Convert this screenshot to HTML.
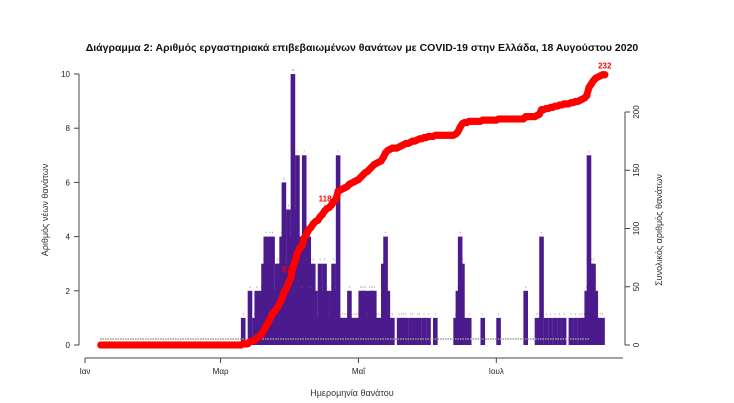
<!DOCTYPE html>
<html><head><meta charset="utf-8"><style>
body{margin:0;background:#fff;}
svg{display:block;font-family:"Liberation Sans","DejaVu Sans",sans-serif;}
</style></head><body>
<svg id="chart" width="734" height="403" viewBox="0 0 734 403">
<text x="362" y="51" text-anchor="middle" font-size="10.5" font-weight="bold" fill="#111">Διάγραμμα 2: Αριθμός εργαστηριακά επιβεβαιωμένων θανάτων με COVID-19 στην Ελλάδα, 18 Αυγούστου 2020</text>
<g id="bars"></g>
<line x1="100" y1="339" x2="590" y2="339" stroke="#999" stroke-width="1.5" stroke-dasharray="1.5,1"/>
<g id="cum"></g>
<g id="axes"></g>
<text x="352" y="396" text-anchor="middle" font-size="9" fill="#333">Ημερομηνία θανάτου</text>
<text transform="translate(48,210) rotate(-90)" text-anchor="middle" font-size="9" fill="#333">Αριθμός νέων θανάτων</text>
<text transform="translate(662,230) rotate(-90)" text-anchor="middle" font-size="9" fill="#333">Συνολικός αριθμός θανάτων</text>
</svg>
<script>
const startDay = 70; // Mar 11 (day index from Jan 1)
const dailyDeaths = [
1,0,0,2,0,1,2,1,2,3,
4,3,4,4,2,3,3,4,6,3,
5,4,10,5,7,4,2,7,3,4,
2,3,2,1,3,2,3,2,1,2,
3,2,7,1,1,1,1,2,1,1,
1,1,2,2,2,1,2,2,2,1,
1,1,3,4,2,1,1,0,0,1,
1,1,1,0,1,1,0,1,1,0,
1,0,1,0,0,1,0,0,0,0,
0,0,0,0,1,2,4,3,1,0,
1,0,0,0,0,0,1,0,0,0,
0,0,0,1,0,0,0,0,0,0,
0,0,0,0,0,2,0,0,0,0,
1,1,4,0,1,0,1,0,1,0,
1,0,1,0,0,1,0,1,0,1,
1,1,2,7,3,3,2,1,1,1,0];
const leftTicks = [0,2,4,6,8,10];
const rightTicks = [0,50,100,150,200];
const monthTicks = ["Ιαν","Μαρ","Μαΐ","Ιουλ"];
const monthDays = [0,60,121,182];
const cumStartDay = 7;
const labelDays = [91,108];

const NS="http://www.w3.org/2000/svg";
const X=d=>85+d*2.26;
const YL=v=>345-v*27.1;
const YR=v=>345-v*1.165;
function mk(tag,attrs,parent){const e=document.createElementNS(NS,tag);for(const k in attrs)e.setAttribute(k,attrs[k]);parent.appendChild(e);return e;}
const bars=document.getElementById('bars'),cum=document.getElementById('cum'),axes=document.getElementById('axes');
dailyDeaths.forEach((v,i)=>{if(v<=0)return;const d=startDay+i;
 const r=mk('rect',{x:X(d)-2.3,y:YL(v),width:4.6,height:YL(0)-YL(v),fill:'#4b1a8c'},bars);
 
 
 const t=mk('text',{x:X(d),y:YL(v)-3,'font-size':3,fill:'#888','text-anchor':'middle'},bars);t.textContent=v;
 
 
});
let c=0;const pts=[];
for(let d=cumStartDay;d<=startDay+dailyDeaths.length-1;d++){const i=d-startDay;if(i>=0)c+=dailyDeaths[i];pts.push([X(d),YR(c),c,d]);}
const pl=mk('polyline',{points:pts.map(p=>p[0]+','+p[1]).join(' '),fill:'none',stroke:'#ff0000','stroke-width':7,'stroke-linejoin':'round','stroke-linecap':'round'},cum);


pts.forEach(p=>{const ci=mk('circle',{cx:p[0],cy:p[1],r:3.6,fill:'#ff0000'},cum);
 
 });
const last=pts[pts.length-1];
const lbls=labelDays.map(d=>pts.find(p=>p[3]===d)).concat([last]);
lbls.forEach((p,k)=>{const t=mk('text',{x:p[0]+(k==2?0:-4),y:p[1]-6,'font-size':8,'font-weight':'bold',fill:'#ff0000','text-anchor':'middle'},cum);t.textContent=p[2];
 
 });
const la=mk('line',{x1:79,y1:YL(0),x2:79,y2:YL(10),stroke:'#444'},axes);


leftTicks.forEach(v=>{mk('line',{x1:74,y1:YL(v),x2:79,y2:YL(v),stroke:'#444'},axes);
 const t=mk('text',{x:70,y:YL(v)+3,'font-size':8,fill:'#222','text-anchor':'end'},axes);t.textContent=v;
 
 });
const ra=mk('line',{x1:625,y1:YR(0),x2:625,y2:YR(200),stroke:'#444'},axes);


rightTicks.forEach(v=>{mk('line',{x1:625,y1:YR(v),x2:630,y2:YR(v),stroke:'#444'},axes);
 const t=mk('text',{'font-size':8,fill:'#222','text-anchor':'middle',transform:`translate(639,${YR(v)}) rotate(-90)`},axes);t.textContent=v;
 
 });
const xa=mk('line',{x1:X(0),y1:358,x2:623,y2:358,stroke:'#444'},axes);


monthTicks.forEach((m,i)=>{const x=X(monthDays[i]);mk('line',{x1:x,y1:358,x2:x,y2:363,stroke:'#444'},axes);
 const t=mk('text',{x:x,y:374,'font-size':8,fill:'#222','text-anchor':'middle'},axes);t.textContent=m;
 
 });
</script>
</body></html>
